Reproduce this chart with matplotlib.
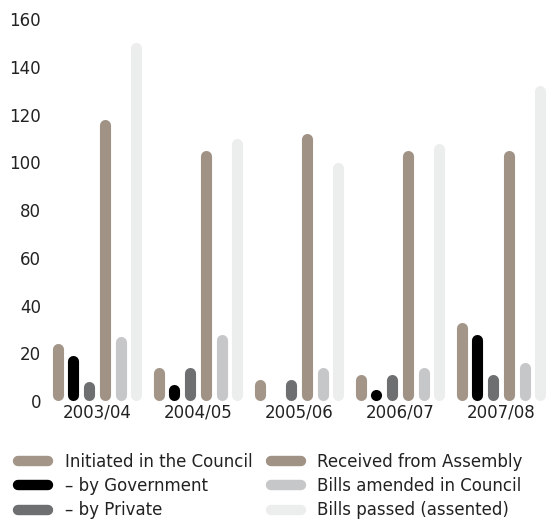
import numpy as np
import matplotlib.pyplot as plt
from matplotlib.lines import Line2D

plt.rcParams['font.family'] = ['DejaVu Sans']

years = ['2003/04', '2004/05', '2005/06', '2006/07', '2007/08']
initiated = [24, 14, 9, 11, 33]
government = [19, 7, 0, 5, 28]
private = [8, 14, 9, 11, 11]
received = [118, 105, 112, 105, 105]
amended = [27, 28, 14, 14, 16]
passed = [150, 110, 100, 108, 132]

labels = ['Initiated in the Council', '\u2013 by Government', '\u2013 by Private',
          'Received from Assembly', 'Bills amended in Council', 'Bills passed (assented)']
colors = ['#a39689', '#000000', '#6e6f71', '#a09386', '#c6c7c9', '#eceeed']
series = [initiated, government, private, received, amended, passed]

fig = plt.figure(figsize=(5.55, 5.21), dpi=100)
ax = fig.add_axes([0.0838, 0.2303, 0.91, 0.7332])
ax.set_xlim(-0.5, 4.5)
ax.set_ylim(0, 160)

# rounded bars: thick lines with round caps, shortened by the cap radius
lw = 8.0
ax_h_px = 0.7332 * 521
r = (lw / 72 * 100 / 2) * 160 / ax_h_px
step = 0.156
for j, vals in enumerate(series):
    for i, v in enumerate(vals):
        if v <= 0:
            continue
        x = i + (j - 2.5) * step
        if v - r <= r + 0.5:
            # too short for a segment, draw a single round dot
            ax.plot([x], [v - r], 'o', color=colors[j], markersize=lw,
                    markeredgewidth=0, clip_on=False)
        else:
            ax.plot([x, x], [r, v - r], color=colors[j], lw=lw,
                    solid_capstyle='round', clip_on=False)

for s in ax.spines.values():
    s.set_visible(False)
ax.set_yticks(range(0, 161, 20))
ax.set_xticks(range(len(years)))
ax.set_xticklabels(years)
ax.tick_params(axis='y', length=0, pad=4, labelsize=12, labelcolor='#222222')
ax.tick_params(axis='x', length=0, pad=2, labelsize=12, labelcolor='#222222')

handles = [Line2D([], [], color=c, lw=7.5, solid_capstyle='round') for c in colors]
fig.legend(handles, labels, ncol=2, loc='upper left', bbox_to_anchor=(0.0324, 0.1305),
           frameon=False, fontsize=12, handlelength=1.8, handletextpad=1.0,
           columnspacing=1.1, labelspacing=0.37, borderaxespad=0, borderpad=0,
           labelcolor='#222222')

fig.savefig('out.png', dpi=100)
